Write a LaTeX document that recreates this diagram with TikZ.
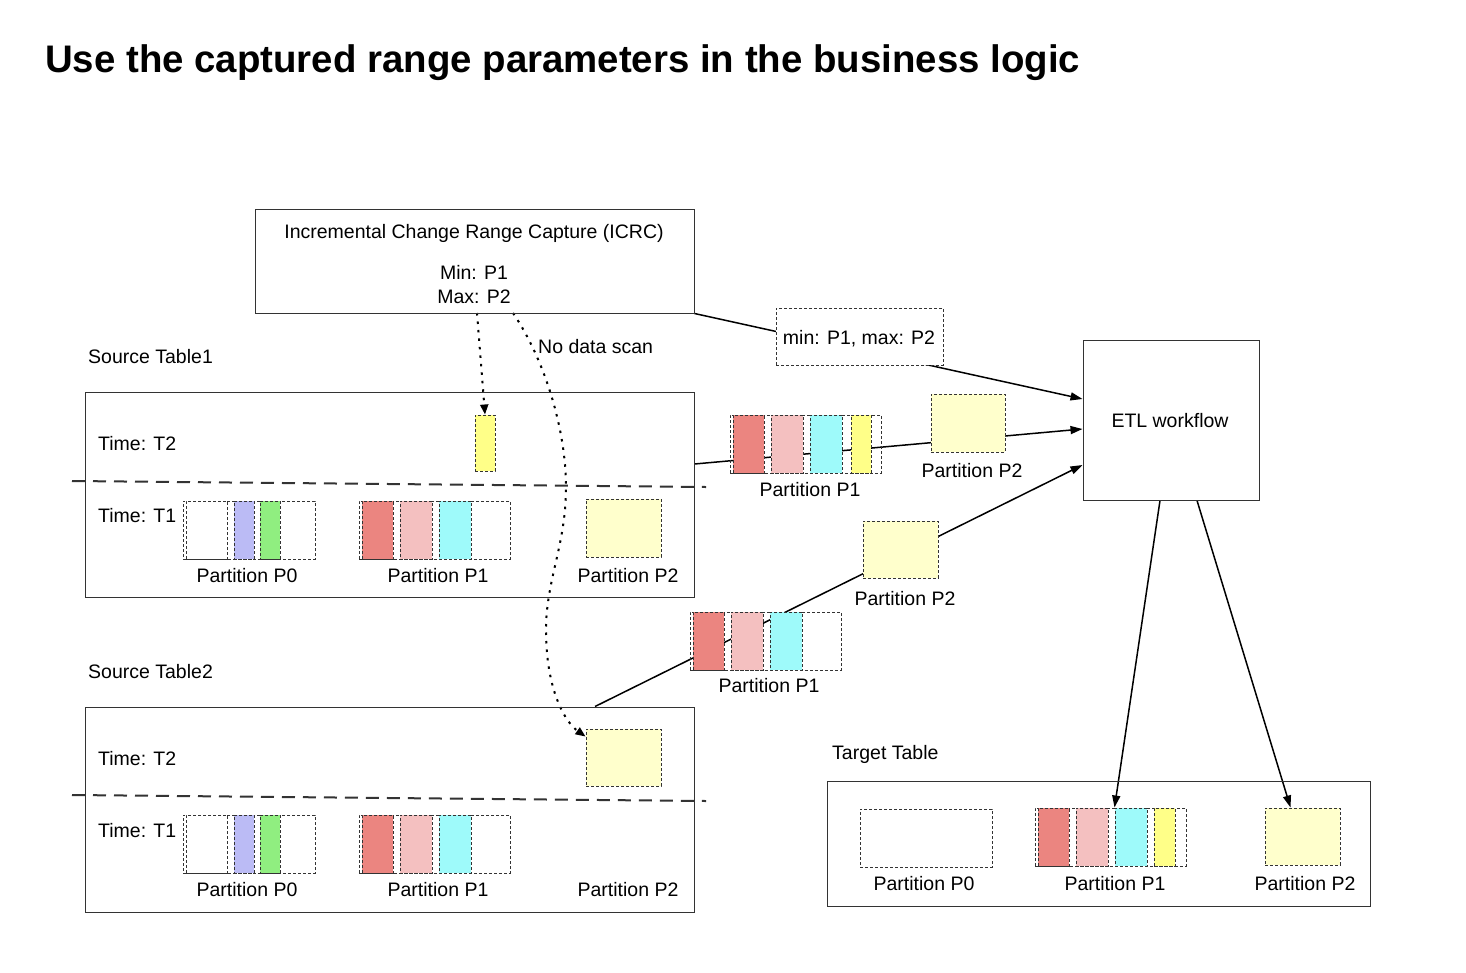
\documentclass[tikz,border=0pt]{standalone}
\usepackage{fontspec}
\setmainfont{Liberation Sans}
\usetikzlibrary{arrows.meta,backgrounds}
\definecolor{cred}{RGB}{235,133,128}
\definecolor{cpink}{RGB}{244,192,192}
\definecolor{ccyan}{RGB}{158,250,250}
\definecolor{cblue}{RGB}{187,187,245}
\definecolor{cgreen}{RGB}{144,238,128}
\definecolor{cylw}{RGB}{255,255,136}
\definecolor{clyw}{RGB}{255,255,204}
\newcommand\labfont{\fontsize{19.5}{23}\selectfont}
% box from its corners: [style]{name}{x1}{y1}{x2}{y2}
\newcommand\bx[6][]{\node[#1,minimum width={(#5-(#3))*1pt},minimum height={(#6-(#4))*1pt}] (#2) at ({((#3)+(#5))/2},{((#4)+(#6))/2}) {};}
% partition P0: white, blue, green
\newcommand\pzero[3]{\bx[grp]{#1}{#2}{#3}{#2+132}{#3+58}
\bx[cell]{#1w}{#2+3}{#3}{#2+44}{#3+58}
\bx[cell=cblue]{#1b}{#2+51}{#3}{#2+71}{#3+58}
\bx[cell=cgreen]{#1g}{#2+77}{#3}{#2+97}{#3+58}}
% partition P1: red, pink, cyan
\newcommand\pone[3]{\bx[grp]{#1}{#2}{#3}{#2+151}{#3+58}
\bx[cell=cred]{#1r}{#2+3}{#3}{#2+34}{#3+58}
\bx[cell=cpink]{#1p}{#2+41}{#3}{#2+73}{#3+58}
\bx[cell=ccyan]{#1c}{#2+80}{#3}{#2+112}{#3+58}}
\tikzset{
 lab/.style={font=\labfont,inner sep=0pt},
 tbl/.style={draw=black!80,line width=1pt,inner sep=0pt},
 grp/.style={draw=black!80,line width=1pt,dash pattern=on 3pt off 2pt,inner sep=0pt},
 cell/.style={grp,fill=#1},
 cell/.default=white,
 tsep/.style={draw=black!80,line width=2pt,dash pattern=on 13pt off 8pt},
 conn/.style={line width=1.5pt,-{Triangle[length=12pt,width=8pt]}},
 dotline/.style={line width=2pt,dash pattern=on 2.5pt off 6pt,-{Triangle[length=10pt,width=8pt]}},
}
\begin{document}
\begin{tikzpicture}[x=1pt,y=-1pt]
\useasboundingbox (0,0) rectangle (1466,972);
\node[anchor=base west,inner sep=0pt,font=\fontsize{38.4}{44}\selectfont\bfseries] (title) at (45,72) {Use the captured range parameters in the business logic};
% ICRC
\bx[tbl]{icrc}{255}{209}{694}{313}
\node[lab,anchor=base] (icrct) at (474,238) {Incremental Change Range Capture (ICRC)};
\node[lab,anchor=base] (mn) at (474,279) {Min: P1};
\node[lab,anchor=base] (mx) at (474,303) {Max: P2};
\node[lab,anchor=base west] (nds) at (538,353) {No data scan};
\bx[cell]{mm}{776}{308}{943}{365}
\node[lab,anchor=base] (mmt) at (859,344) {min: P1, max: P2};
% ETL
\bx[tbl]{etl}{1083}{340}{1259}{500}
\node[lab,anchor=base] (etlt) at (1170,427) {ETL workflow};
% source table 1
\node[lab,anchor=base west] (s1t) at (88,363) {Source Table1};
\bx[tbl]{src1}{85}{392}{694}{597}
\node[lab,anchor=base west] (s1t2) at (98,450) {Time: T2};
\node[lab,anchor=base west] (s1t1) at (98,522) {Time: T1};
\draw[tsep] (72,481) -- (706,487);
\bx[cell=cylw]{s1y}{475}{415}{495}{471}
\pzero{s1p0}{183}{501}
\pone{s1p1}{359}{501}
\bx[cell=clyw]{s1p2}{586}{499}{661}{557}
\node[lab,anchor=base] (s1l0) at (247,582) {Partition P0};
\node[lab,anchor=base] (s1l1) at (438,582) {Partition P1};
\node[lab,anchor=base] (s1l2) at (628,582) {Partition P2};
% source table 2
\node[lab,anchor=base west] (s2t) at (88,678) {Source Table2};
\bx[tbl]{src2}{85}{707}{694}{912}
\node[lab,anchor=base west] (s2t2) at (98,765) {Time: T2};
\node[lab,anchor=base west] (s2t1) at (98,837) {Time: T1};
\draw[tsep] (72,795) -- (706,801);
\bx[cell=clyw]{s2p2}{586}{729}{661}{786}
\pzero{s2p0}{183}{815}
\pone{s2p1}{359}{815}
\node[lab,anchor=base] (s2l0) at (247,896) {Partition P0};
\node[lab,anchor=base] (s2l1) at (438,896) {Partition P1};
\node[lab,anchor=base] (s2l2) at (628,896) {Partition P2};
% picked partitions
\pone{f1p1}{730}{415}
\bx[cell=cylw]{f1y}{851}{415}{871}{473}
\node[lab,anchor=base] (f1l1) at (810,496) {Partition P1};
\bx[cell=clyw]{f1p2}{931}{394}{1005}{452}
\node[lab,anchor=base] (f1l2) at (972,477) {Partition P2};
\pone{f2p1}{690}{612}
\node[lab,anchor=base] (f2l1) at (769,692) {Partition P1};
\bx[cell=clyw]{f2p2}{863}{521}{938}{578}
\node[lab,anchor=base] (f2l2) at (905,605) {Partition P2};
% target table
\node[lab,anchor=base west] (tt) at (832,759) {Target Table};
\bx[tbl]{tgt}{827}{781}{1370}{906}
\bx[cell]{tp0}{860}{809}{992}{867}
\pone{tp1}{1035}{808}
\bx[cell=cylw]{tpy}{1154}{808}{1175}{866}
\bx[cell=clyw]{tp2}{1265}{808}{1340}{865}
\node[lab,anchor=base] (tl0) at (924,890) {Partition P0};
\node[lab,anchor=base] (tl1) at (1115,890) {Partition P1};
\node[lab,anchor=base] (tl2) at (1305,890) {Partition P2};
% connectors
\begin{pgfonlayer}{background}
\coordinate (d1) at (477,313);
\coordinate (d2) at (513,313);
\draw[dotline] (d1) -- (s1y.north);
\draw[dotline] (d2) .. controls (545,360) and (566,430) .. (566,487) .. controls (566,545) and (546,580) .. (546,630) .. controls (546,690) and (565,722) .. ([yshift=-8pt]s2p2.north west);
\draw[conn] (icrc.south east) -- ([yshift=21pt]etl.west);
\draw[conn] ([yshift=30.5pt]src1.east) -- ([yshift=-9pt]etl.west);
\draw[conn] ([xshift=205.5pt]src2.north) -- ([yshift=-45pt]etl.west);
\draw[conn] ([xshift=-11pt]etl.south) -- ([xshift=4pt]tp1.north);
\draw[conn] ([xshift=26pt]etl.south) -- ([xshift=-12pt]tp2.north);
\end{pgfonlayer}
\end{tikzpicture}
\end{document}
